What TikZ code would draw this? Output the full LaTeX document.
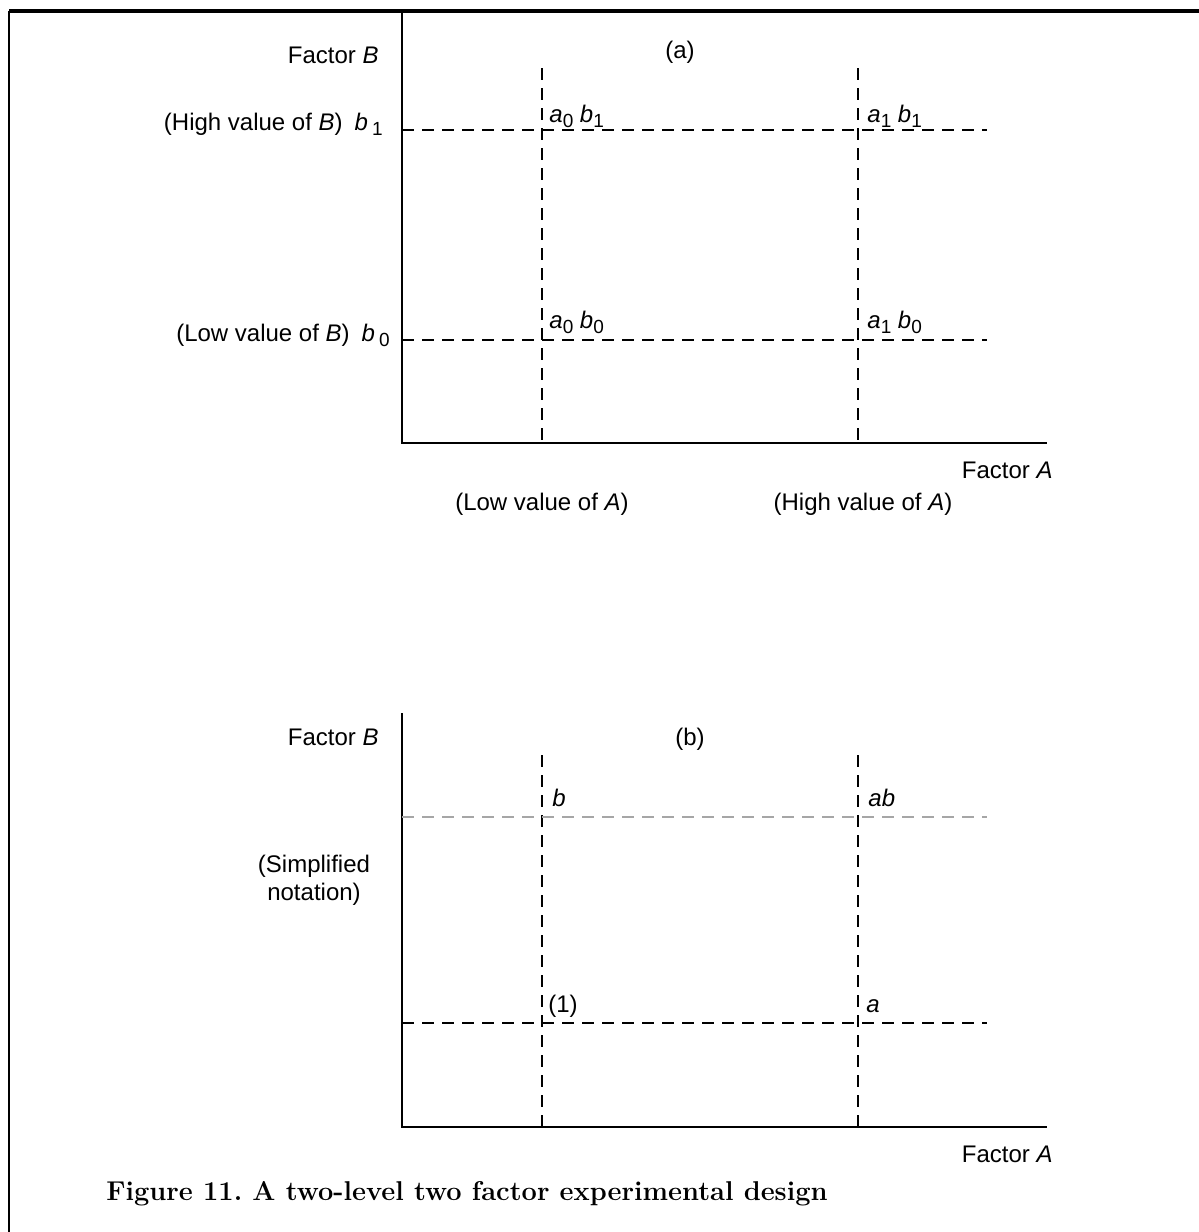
\documentclass[tikz,border=0pt]{standalone}
\usepackage{fontspec}
\setsansfont{Liberation Sans}
\usetikzlibrary{positioning}
\newcommand{\lowidx}[1]{\raisebox{-2.6pt}{\fontsize{9.5}{11}\selectfont #1}}

\begin{document}
\begin{tikzpicture}[
    x=0.5pt, y=-0.5pt, % one unit = one pixel of the scan
    axis/.style={line width=0.9pt},
    grid/.style={dash pattern=on 6pt off 4pt, line width=0.6pt},
    lbl/.style={font=\sffamily\fontsize{12}{14}\selectfont, inner sep=0pt},
    caption/.style={font=\bfseries\fontsize{13.6}{15}\selectfont, inner sep=0pt}
]
\useasboundingbox (0,0) rectangle (1199,1232);

% frame
\coordinate (tl) at (9,11);
\coordinate (tr) at (1199,11);
\coordinate (bl) at (9,1232);
\draw[line width=2pt] (tl) -- (tr);
\draw[line width=1pt] (tl) -- (bl);

% ---- panel (a)
\coordinate (ytopA) at (402,11);
\coordinate (xendA) at (1047,443);
\draw[axis] (ytopA) |- (xendA);
\foreach \x/\n in {542/lo, 858/hi} {
    \coordinate (\n At) at (\x,68);
    \coordinate (\n Ab) at (\x,443);
    \draw[grid] (\n At) -- (\n Ab);
}
\foreach \y/\n in {130/hi, 340/lo} {
    \coordinate (\n Bl) at (402,\y);
    \coordinate (\n Br) at (987,\y);
    \draw[grid] (\n Bl) -- (\n Br);
}

\node[lbl, anchor=base east] (facBa) at (379,63) {Factor \textit{B}};
\node[lbl, anchor=base] (tagA) at (680,58) {(a)};
\node[lbl, anchor=base east] (hiB) at (383,130) {(High value of \textit{B})\enspace\textit{b}\,\lowidx{1}};
\node[lbl, anchor=base east] (loB) at (390,341) {(Low value of \textit{B})\enspace\textit{b}\,\lowidx{0}};
\node[lbl, anchor=base west] (a0b1) at (549,122) {\textit{a}\lowidx{0}\;\textit{b}\lowidx{1}};
\node[lbl, anchor=base west] (a1b1) at (867,122) {\textit{a}\lowidx{1}\;\textit{b}\lowidx{1}};
\node[lbl, anchor=base west] (a0b0) at (549,328) {\textit{a}\lowidx{0}\;\textit{b}\lowidx{0}};
\node[lbl, anchor=base west] (a1b0) at (867,328) {\textit{a}\lowidx{1}\;\textit{b}\lowidx{0}};
\node[lbl, anchor=base east] (facAa) at (1053,478) {Factor \textit{A}};
\node[lbl, anchor=base] (loA) at (542,510) {(Low value of \textit{A})};
\node[lbl, anchor=base] (hiA) at (863,510) {(High value of \textit{A})};

% ---- panel (b)
\coordinate (ytopB) at (402,713);
\coordinate (xendB) at (1047,1127);
\draw[axis] (ytopB) |- (xendB);
\foreach \x/\n in {542/lo, 858/hi} {
    \coordinate (\n Bt) at (\x,755);
    \coordinate (\n Bb) at (\x,1127);
    \draw[grid] (\n Bt) -- (\n Bb);
}
\coordinate (topl) at (402,817);
\coordinate (topr) at (987,817);
\draw[grid, gray!70] (topl) -- (topr);
\coordinate (botl) at (402,1023);
\coordinate (botr) at (987,1023);
\draw[grid] (botl) -- (botr);

\node[lbl, anchor=base east] (facBb) at (379,745) {Factor \textit{B}};
\node[lbl, anchor=base] (tagB) at (690,745) {(b)};
\node[lbl, align=center] (simp) at (314,880) {(Simplified\\notation)};
\node[lbl, anchor=base west] (nb) at (552,806) {\textit{b}};
\node[lbl, anchor=base west] (nab) at (868,806) {\textit{ab}};
\node[lbl, anchor=base west] (n1) at (548,1012) {(1)};
\node[lbl, anchor=base west] (na) at (866,1012) {\textit{a}};
\node[lbl, anchor=base east] (facAb) at (1053,1162) {Factor \textit{A}};

\node[caption, anchor=base west] (cap) at (106,1200) {\frenchspacing Figure 11. A two-level two factor experimental design};

\end{tikzpicture}
\end{document}
